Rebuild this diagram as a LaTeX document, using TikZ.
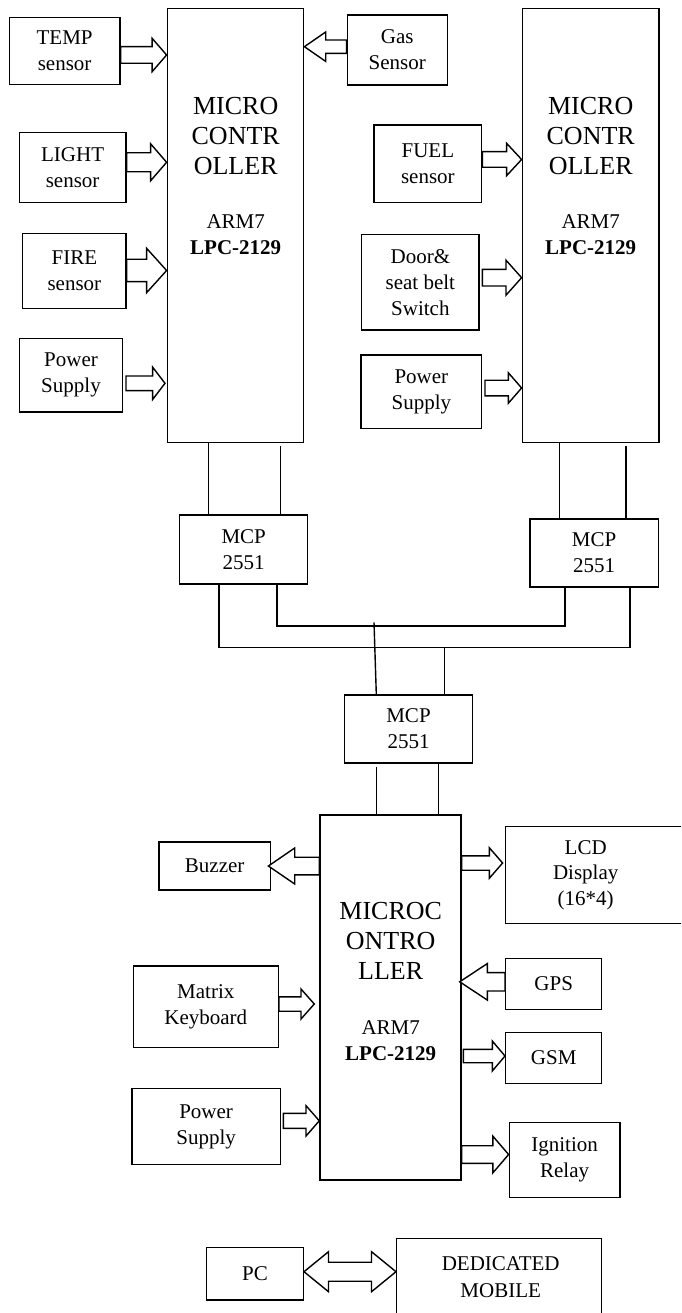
\documentclass[tikz,border=0pt]{standalone}
\usepackage{fontspec}
\setmainfont{Liberation Serif}
\usetikzlibrary{calc}
\newcommand{\fsSmall}{\fontsize{21}{26}\selectfont}
\newcommand{\fsBig}{\fontsize{26}{30}\selectfont}
\tikzset{
  box/.style={draw, line width=1.4pt, inner sep=0pt, align=center, font=\fsSmall},
  bigtxt/.style={inner sep=0pt, align=center, font=\fsBig},
  smtxt/.style={inner sep=0pt, align=center, font=\fontsize{21}{25.6}\selectfont},
  arr/.style={draw, fill=white, line width=1.4pt, line join=miter},
  wire/.style={draw, line width=1.4pt}
}
% box: name, x1, y1, x2, y2, text
\newcommand{\bx}[6]{\node[box, minimum width={#4-#2}, minimum height={#5-#3}] (#1) at ({(#2+#4)/2},{(#3+#5)/2}) {#6};}
% block arrow: tail, tip, body half, head half, head length, sign (- for rightward, + for leftward)
\newcommand{\barr}[6]{\draw[arr] let \p1=(#1), \p2=(#2) in
  (\x1,\y1+#3) -- (\x2#6#5,\y1+#3) -- (\x2#6#5,\y1+#4) -- (\x2,\y1) -- (\x2#6#5,\y1-#4) -- (\x2#6#5,\y1-#3) -- (\x1,\y1-#3) -- cycle;}
% double block arrow: left tip, right tip, body half, head half, head length
\newcommand{\darr}[5]{\draw[arr] let \p1=(#1), \p2=(#2) in
  (\x1,\y1) -- (\x1+#5,\y1+#4) -- (\x1+#5,\y1+#3) -- (\x2-#5,\y1+#3) -- (\x2-#5,\y1+#4) -- (\x2,\y1) -- (\x2-#5,\y1-#4) -- (\x2-#5,\y1-#3) -- (\x1+#5,\y1-#3) -- (\x1+#5,\y1-#4) -- cycle;}
\begin{document}
\begin{tikzpicture}[x=1pt,y=-1pt]
\clip (0,0) rectangle (681,1313);
\fill[white] (0,0) rectangle (681,1313);
% ---------- top left unit ----------
\bx{mc1}{167.3}{8.3}{303.7}{442.7}{}
\node[bigtxt] (mc1a) at (235.7,135.7) {MICRO\\CONTR\\OLLER};
\node[smtxt] (mc1b) at (235.7,234.5) {ARM7\\\textbf{LPC-2129}};
\bx{temp}{9.3}{17.7}{120}{84.3}{TEMP\\sensor}
\bx{light}{19.3}{132.3}{126}{202.3}{LIGHT\\sensor}
\bx{fire}{22.7}{233.7}{126}{308.7}{FIRE\\sensor}
\bx{pow1}{19.3}{338.7}{122.7}{412}{Power\\Supply}
\bx{gas}{347.3}{15}{447.3}{85}{Gas\\Sensor}
% ---------- top right unit ----------
\bx{mc2}{522.3}{8.3}{659}{442.7}{}
\node[bigtxt] (mc2a) at (590.7,135.7) {MICRO\\CONTR\\OLLER};
\node[smtxt] (mc2b) at (590.7,234.5) {ARM7\\\textbf{LPC-2129}};
\bx{fuel}{374}{125}{481.7}{202.7}{FUEL\\sensor}
\bx{door}{361.7}{234.3}{479}{330}{Door\&\\seat belt\\Switch}
\bx{pow2}{361}{355}{481.7}{428.3}{Power\\Supply}
% ---------- CAN transceivers ----------
\bx{mcp1}{179.7}{515}{307.7}{584}{MCP\\2551}
\bx{mcp2}{530}{519}{658.3}{587}{MCP\\2551}
\bx{mcp3}{344.3}{695}{472.7}{763}{MCP\\2551}
% ---------- bottom unit ----------
\bx{mc3}{320}{815}{461}{1180}{}
\node[bigtxt] (mc3a) at (390.7,940.7) {MICROC\\ONTRO\\LLER};
\node[smtxt] (mc3b) at (390.7,1040.8) {ARM7\\\textbf{LPC-2129}};
\bx{buzz}{159}{842}{270.3}{890}{Buzzer}
\bx{lcd}{505.7}{826.7}{700}{923.3}{}
\node[smtxt] (lcdt) at (585.7,875) {LCD\\Display\\(16*4)};
\bx{gps}{505.7}{958.3}{601.7}{1009.3}{GPS}
\bx{gsm}{505.7}{1032.3}{601.7}{1083.3}{GSM}
\bx{ign}{509.3}{1122.7}{620}{1197.7}{Ignition\\Relay}
\bx{mat}{133.3}{966}{278.3}{1047.7}{Matrix\\Keyboard}
\bx{pow3}{132}{1088.7}{280.3}{1164.3}{Power\\Supply}
\bx{pc}{206.7}{1247.3}{303.3}{1300}{PC}
\bx{ded}{396.7}{1238.7}{601.7}{1340}{}
\node[smtxt] (dedt) at (500.7,1277) {DEDICATED\\[1.4pt]MOBILE};
% ---------- block arrows ----------
\barr{temp.east |- 0,55}{mc1.west |- 0,55}{8.3pt}{16.7pt}{14.5pt}{-}
\barr{light.east |- 0,162.3}{mc1.west |- 0,162.3}{9.5pt}{18.5pt}{16pt}{-}
\barr{fire.east |- 0,270.5}{mc1.west |- 0,270.5}{11.2pt}{22.2pt}{20pt}{-}
\barr{$(pow1.east |- 0,383.3)+(2.6,0)$}{$(mc1.west |- 0,383.3)+(-1.6,0)$}{7.3pt}{16.2pt}{12.4pt}{-}
\barr{gas.west |- 0,46.7}{mc1.east |- 0,46.7}{6.7pt}{14.7pt}{21.3pt}{+}
\barr{fuel.east |- 0,159.5}{mc2.west |- 0,159.5}{7.8pt}{16.2pt}{15pt}{-}
\barr{$(door.east |- 0,277.7)+(2.7,0)$}{mc2.west |- 0,277.7}{8.3pt}{17.5pt}{15.6pt}{-}
\barr{$(pow2.east |- 0,388)+(2.6,0)$}{mc2.west |- 0,388}{7.8pt}{15.3pt}{13.3pt}{-}
\barr{mc3.west |- 0,866}{$(buzz.east |- 0,866)+(-2.6,0)$}{8.8pt}{18pt}{26.3pt}{+}
\barr{mc3.east |- 0,863}{$(lcd.west |- 0,863)+(-2.4,0)$}{7.2pt}{15.3pt}{13.3pt}{-}
\barr{gps.west |- 0,981.8}{$(mc3.east |- 0,981.8)+(-2,0)$}{9.2pt}{18.3pt}{27.7pt}{+}
\barr{$(mc3.east |- 0,1056)+(1.7,0)$}{gsm.west |- 0,1056}{6.7pt}{15pt}{12.7pt}{-}
\barr{mc3.east |- 0,1154.5}{ign.west |- 0,1154.5}{8.8pt}{18.3pt}{15.7pt}{-}
\barr{mat.east |- 0,1004}{$(mc3.west |- 0,1004)+(-5,0)$}{7.2pt}{15pt}{13.3pt}{-}
\barr{$(pow3.east |- 0,1120.8)+(2.4,0)$}{mc3.west |- 0,1120.8}{7.5pt}{15.2pt}{13.3pt}{-}
\darr{pc.east |- 0,1271.7}{ded.west |- 0,1271.7}{9.5pt}{20pt}{24.5pt}
% ---------- wires ----------
\draw[wire] (mc1.south -| 208.7,0) -- (mcp1.north -| 208.7,0);
\draw[wire] ($(mc1.south -| 280.7,0)+(0,2.5)$) -- (mcp1.north -| 280.7,0);
\draw[wire] (mc2.south -| 559.7,0) -- (mcp2.north -| 559.7,0);
\draw[wire] ($(mc2.south -| 626,0)+(0,3)$) -- (mcp2.north -| 626,0);
\coordinate (busA1) at (219,647.3);
\coordinate (busA2) at (630,647.3);
\coordinate (busB1) at (277,626);
\coordinate (busB2) at (565,626);
\draw[wire] (mcp1.south -| busA1) -- (busA1) -- (busA2) -- (mcp2.south -| busA2);
\draw[wire] (mcp1.south -| busB1) -- (busB1) -- (busB2) -- (mcp2.south -| busB2);
\coordinate (tapB) at (374,622.3);
\coordinate (tapA) at (444.7,647.3);
\draw[wire] (tapB) -- (mcp3.north -| 376.3,0);
\draw[wire] (tapA) -- (mcp3.north -| tapA);
\draw[wire] ($(mcp3.south -| 376.3,0)+(0,3.5)$) -- (mc3.north -| 376.3,0);
\draw[wire] (mcp3.south -| 438.7,0) -- (mc3.north -| 438.7,0);
\end{tikzpicture}
\end{document}
